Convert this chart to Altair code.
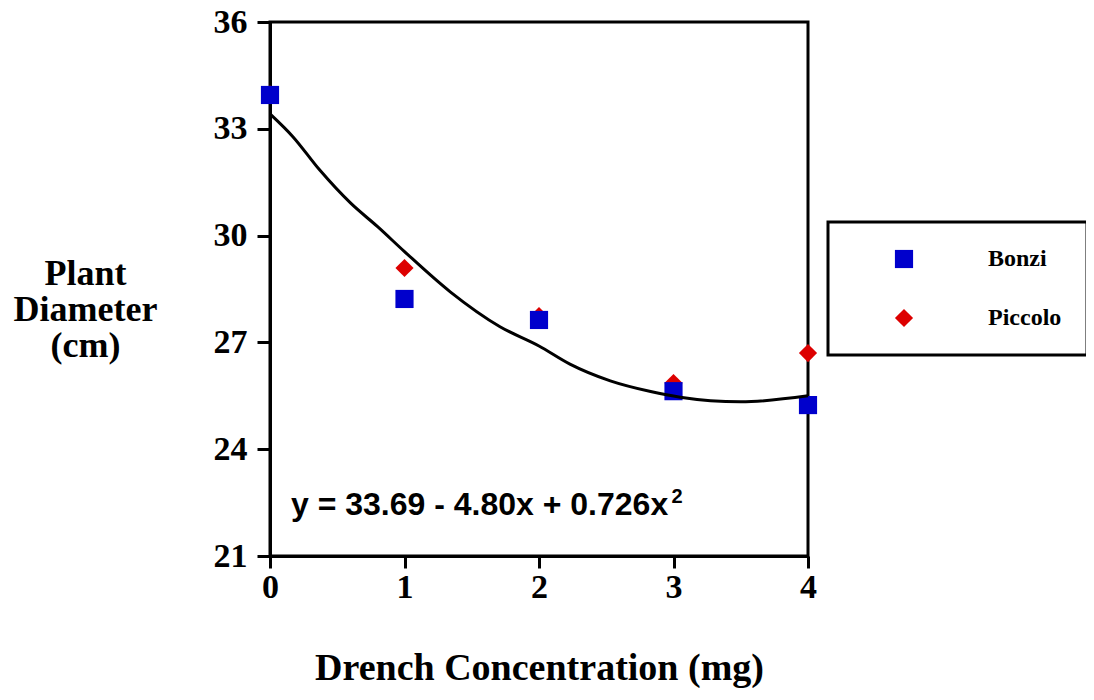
import altair as alt
import pandas as pd

# ---- data ----
doses = [0, 1, 2, 3, 4]
bonzi = [33.95, 28.22, 27.63, 25.63, 25.24]
piccolo = [33.97, 29.09, 27.74, 25.86, 26.70]

curve_x = [0, 0.17, 0.37, 0.6, 0.8, 1.0, 1.34, 1.71, 2.0, 2.23, 2.53, 2.83, 3.05, 3.5, 4.0]
curve_y = [33.42, 32.78, 31.84, 30.91, 30.25, 29.55, 28.42, 27.44, 26.9, 26.39, 25.92, 25.62, 25.46, 25.33, 25.50]

y_ticks = [21, 24, 27, 30, 33, 36]
x_ticks = [0, 1, 2, 3, 4]

eq_text = ["y = 33.69 - 4.80x + 0.726x"]
eq_x = [0.156]
eq_y = [22.15]
sup_text = ["2"]
sup_x = [2.985]
sup_y = [22.49]

series = ["Bonzi", "Piccolo"]
colors = ["#0000cc", "#dd0000"]
shapes = ["square", "diamond"]

rows = []
for d, v in zip(doses, piccolo):
    rows.append({"dose": d, "diam": v, "variety": "Piccolo", "z": 0})
for d, v in zip(doses, bonzi):
    rows.append({"dose": d, "diam": v, "variety": "Bonzi", "z": 1})
pts = pd.DataFrame(rows)
curve = pd.DataFrame({"dose": curve_x, "diam": curve_y})
eq = pd.DataFrame({"dose": eq_x, "diam": eq_y, "t": eq_text})
sup = pd.DataFrame({"dose": sup_x, "diam": sup_y, "t": sup_text})

serif = "Liberation Serif"
sans = "Liberation Sans"

xscale = alt.Scale(domain=[0, 4], nice=False, zero=False)
yscale = alt.Scale(domain=[21, 36], nice=False, zero=False)

x_enc = alt.X(
    "dose:Q", scale=xscale,
    axis=alt.Axis(
        values=x_ticks, format="d", title="Drench Concentration (mg)",
        titleFont=serif, titleFontSize=38, titleFontWeight="bold", titleColor="black",
        titleY=123, titleBaseline="alphabetic",
        labelFont=serif, labelFontSize=34, labelFontWeight="bold", labelColor="black",
        labelPadding=2, tickSize=12, tickWidth=3, tickColor="black",
        domainColor="black", domainWidth=3, grid=False, labelFlush=False,
    ),
)
y_enc = alt.Y(
    "diam:Q", scale=yscale,
    axis=alt.Axis(
        values=y_ticks, title=["Plant", "Diameter", "(cm)"],
        titleFont=serif, titleFontSize=36, titleFontWeight="bold", titleColor="black",
        titleAngle=0, titleAlign="center", titleBaseline="middle",
        titleX=-185, titleY=251, titleLineHeight=36,
        labelFont=serif, labelFontSize=34, labelFontWeight="bold", labelColor="black",
        labelPadding=10, tickSize=13, tickWidth=3, tickColor="black",
        domainColor="black", domainWidth=3, grid=False, labelFlush=False,
    ),
)

points = alt.Chart(pts).mark_point(filled=True, size=330, opacity=1, strokeWidth=0).encode(
    x=x_enc,
    y=y_enc,
    color=alt.Color(
        "variety:N",
        scale=alt.Scale(domain=series, range=colors),
        legend=alt.Legend(
            title=None, orient="none", legendX=558, legendY=200,
            strokeColor="black", fillColor="white",
            padding=25, rowPadding=35, symbolOffset=39, labelOffset=72,
            symbolSize=330, symbolStrokeWidth=0, symbolOpacity=1,
            labelFont=serif, labelFontSize=24, labelFontWeight="bold", labelColor="black",
            labelExpr="datum.label + '                    '", labelLimit=400,
        ),
    ),
    shape=alt.Shape("variety:N", scale=alt.Scale(domain=series, range=shapes), legend=None),
    order=alt.Order("z:Q"),
)

line = alt.Chart(curve).mark_line(color="black", strokeWidth=3, interpolate="monotone").encode(
    x=alt.X("dose:Q", scale=xscale),
    y=alt.Y("diam:Q", scale=yscale),
)

eq_mark = alt.Chart(eq).mark_text(
    font=sans, fontSize=32, fontWeight="bold", color="black", align="left", baseline="alphabetic"
).encode(x=alt.X("dose:Q", scale=xscale), y=alt.Y("diam:Q", scale=yscale), text="t:N")

sup_mark = alt.Chart(sup).mark_text(
    font=sans, fontSize=20, fontWeight="bold", color="black", align="left", baseline="alphabetic"
).encode(x=alt.X("dose:Q", scale=xscale), y=alt.Y("diam:Q", scale=yscale), text="t:N")

chart = (
    alt.layer(points, line, eq_mark, sup_mark)
    .properties(
        width=538, height=534,
        autosize=alt.AutoSizeParams(type="none"),
        padding={"left": 262, "top": 14, "right": 278, "bottom": 132},
    )
    .configure_view(stroke="black", strokeWidth=3)
    .configure_legend(strokeWidth=3)
)

chart.save("out.html", embed_options={"renderer": "svg", "actions": False})
